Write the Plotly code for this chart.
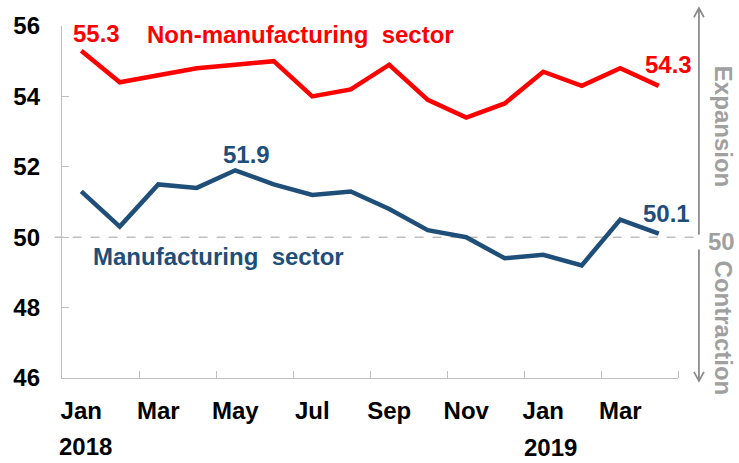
import plotly.graph_objects as go

months = ["Jan", "Feb", "Mar", "Apr", "May", "Jun", "Jul", "Aug", "Sep", "Oct", "Nov", "Dec",
          "Jan", "Feb", "Mar", "Apr"]
non_manufacturing = [55.3, 54.4, 54.6, 54.8, 54.9, 55.0, 54.0, 54.2, 54.9, 53.9, 53.4, 53.8,
                     54.7, 54.3, 54.8, 54.3]
manufacturing = [51.3, 50.3, 51.5, 51.4, 51.9, 51.5, 51.2, 51.3, 50.8, 50.2, 50.0, 49.4,
                 49.5, 49.2, 50.5, 50.1]
year_labels = ["2018", "2019"]
threshold = 50

RED = "#FF0000"
BLUE = "#1F4E79"
GRAY_AX = "#BFBFBF"
GRAY_TXT = "#A0A0A0"
GRAY_ARROW = "#8C8C8C"
FONT = "Liberation Sans, Arial, sans-serif"

n = len(months)
x = list(range(n))

fig = go.Figure()
fig.add_trace(go.Scatter(x=x, y=non_manufacturing, mode="lines",
                         line=dict(color=RED, width=4.5), hoverinfo="skip"))
fig.add_trace(go.Scatter(x=x, y=manufacturing, mode="lines",
                         line=dict(color=BLUE, width=4.5), hoverinfo="skip"))

bold = dict(family=FONT, size=24, weight="bold")

fig.update_layout(
    width=739, height=463,
    margin=dict(l=62, r=61, t=22, b=85),
    plot_bgcolor="white", paper_bgcolor="white",
    showlegend=False,
    xaxis=dict(
        range=[-0.5, n - 0.5],
        tickmode="array",
        tickvals=x[::2],
        ticktext=months[::2],
        ticks="",
        tickfont=dict(bold, color="black"),
        ticklabelstandoff=11,
        showline=True, linecolor=GRAY_AX, linewidth=1.3,
        showgrid=False, zeroline=False,
        minor=dict(tickmode="array", tickvals=[i + 1.5 for i in range(0, n, 2)],
                   ticks="inside", ticklen=7, tickcolor=GRAY_AX, tickwidth=1.3,
                   showgrid=False),
    ),
    yaxis=dict(
        range=[46, 56], dtick=2,
        ticks="inside", ticklen=7, tickcolor=GRAY_AX, tickwidth=1.3,
        tickfont=dict(bold, color="black"),
        ticklabelstandoff=16,
        showline=True, linecolor=GRAY_AX, linewidth=1.3,
        showgrid=False, zeroline=False,
    ),
)

# threshold dashed line
fig.add_shape(type="line", xref="paper", yref="y", x0=-0.012, x1=1.026,
              y0=threshold, y1=threshold,
              line=dict(color=GRAY_AX, width=1.6, dash="dash"), layer="below")

# value labels
def val_label(idx, series, color, xs, ys):
    fig.add_annotation(x=idx, y=series[idx], text=f"{series[idx]:.1f}", showarrow=False,
                       xanchor="center", yanchor="middle", xshift=xs, yshift=ys,
                       font=dict(bold, color=color))

val_label(0, non_manufacturing, RED, 15, 17)
val_label(n - 1, non_manufacturing, RED, 10, 21)
val_label(manufacturing.index(max(manufacturing)), manufacturing, BLUE, 11, 16)
val_label(n - 1, manufacturing, BLUE, 8, 20)

# series names
fig.add_annotation(x=1.656, y=55.77, text="Non-manufacturing  sector", showarrow=False,
                   xanchor="left", yanchor="middle", font=dict(bold, color=RED))
fig.add_annotation(x=0.253, y=49.45, text="Manufacturing  sector", showarrow=False,
                   xanchor="left", yanchor="middle", font=dict(bold, color=BLUE))

# year labels
fig.add_annotation(x=0, y=0, xref="x", yref="paper", text=year_labels[0], showarrow=False,
                   xanchor="center", yanchor="middle", xshift=4, yshift=-68,
                   font=dict(bold, color="black"))
fig.add_annotation(x=12, y=0, xref="x", yref="paper", text=year_labels[1], showarrow=False,
                   xanchor="center", yanchor="middle", xshift=7, yshift=-69,
                   font=dict(bold, color="black"))

# right-side expansion / contraction arrows
ax_x = 1.034
fig.add_shape(type="line", xref="paper", yref="paper", x0=ax_x, x1=ax_x,
              y0=0.407, y1=1.0506, line=dict(color=GRAY_ARROW, width=1.8))
fig.add_shape(type="line", xref="paper", yref="paper", x0=ax_x, x1=ax_x,
              y0=0.365, y1=-0.008, line=dict(color=GRAY_ARROW, width=1.8))
fig.add_shape(type="path", xref="paper", yref="paper",
              xsizemode="pixel", ysizemode="pixel", xanchor=ax_x, yanchor=1.0506,
              path="M -5,-9 L 0,0 L 5,-9", line=dict(color=GRAY_ARROW, width=1.8))
fig.add_shape(type="path", xref="paper", yref="paper",
              xsizemode="pixel", ysizemode="pixel", xanchor=ax_x, yanchor=-0.008,
              path="M -5,9 L 0,0 L 5,9", line=dict(color=GRAY_ARROW, width=1.8))

fig.add_annotation(x=1.0, y=threshold, xref="paper", yref="y", text=str(threshold),
                   showarrow=False, xanchor="center", yanchor="middle", xshift=43, yshift=-4,
                   font=dict(bold, color=GRAY_TXT))
fig.add_annotation(x=1.0, y=(378 - 123) / 356, xref="paper", yref="paper", text="Expansion",
                   showarrow=False, textangle=90, xanchor="center", yanchor="middle", xshift=45,
                   font=dict(bold, color=GRAY_TXT))
fig.add_annotation(x=1.0, y=(378 - 327) / 356, xref="paper", yref="paper", text="Contraction",
                   showarrow=False, textangle=90, xanchor="center", yanchor="middle", xshift=45,
                   font=dict(bold, color=GRAY_TXT))

fig.write_html("out.html", config={"displayModeBar": False},
               post_script="document.body.style.margin='0';document.body.style.overflow='hidden';")
